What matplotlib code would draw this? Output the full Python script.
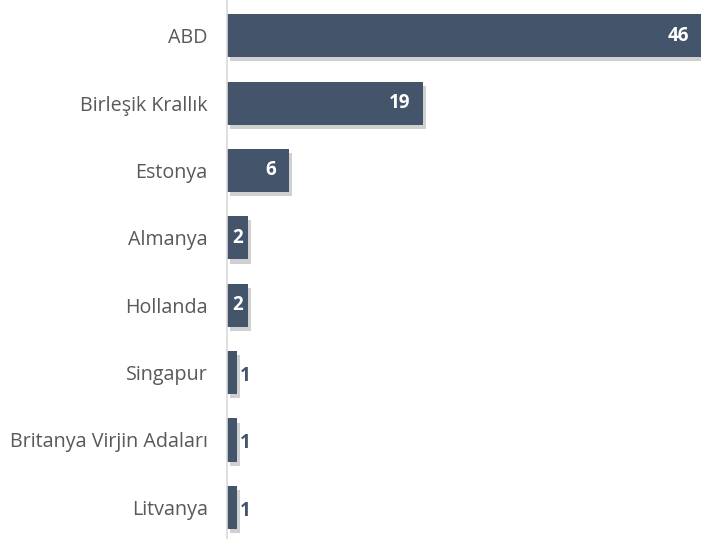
import matplotlib.pyplot as plt
import matplotlib.patheffects as pe

# Country counts
countries = ["ABD", "Birleşik Krallık", "Estonya", "Almanya", "Hollanda",
             "Singapur", "Britanya Virjin Adaları", "Litvanya"]
counts = [46, 19, 6, 2, 2, 1, 1, 1]

bar_color = "#44546A"
text_color = "#595959"

plt.rcParams['font.family'] = ['Open Sans', 'DejaVu Sans']

fig = plt.figure(figsize=(7.01, 5.39), dpi=100)
ax = fig.add_axes([0.324, 0.0, 0.676, 1.0])

ys = list(range(len(countries)))
bars = ax.barh(ys, counts, height=0.64, color=bar_color, zorder=2)
for b in bars:
    b.set_path_effects([pe.SimplePatchShadow(offset=(2, -3), alpha=0.25, shadow_rgbFace="#444444"),
                        pe.Normal()])

ax.set_xlim(0, 46)
ax.set_ylim(len(countries) - 0.53, -0.53)
ax.set_yticks(ys)
ax.set_yticklabels(countries, fontsize=14.2, color=text_color)
ax.tick_params(axis="y", length=0, pad=14)
ax.set_xticks([])

for s in ["top", "right", "bottom"]:
    ax.spines[s].set_visible(False)
ax.spines["left"].set_color("#D9D9D9")
ax.spines["left"].set_linewidth(1.2)

# Value labels
for y, v in zip(ys, counts):
    if v >= 5:
        ax.text(v - 1.2, y, str(v), ha="right", va="center", color="white",
                fontsize=13.5, fontweight="bold", zorder=3)
    elif v >= 2:
        ax.text(v / 2 + 0.05, y, str(v), ha="center", va="center", color="white",
                fontsize=13.5, fontweight="bold", zorder=3)
    else:
        ax.text(v + 0.25, y + 0.05, str(v), ha="left", va="center", color=bar_color,
                fontsize=13.5, fontweight="bold", zorder=3)

fig.savefig("out.png", dpi=100)
